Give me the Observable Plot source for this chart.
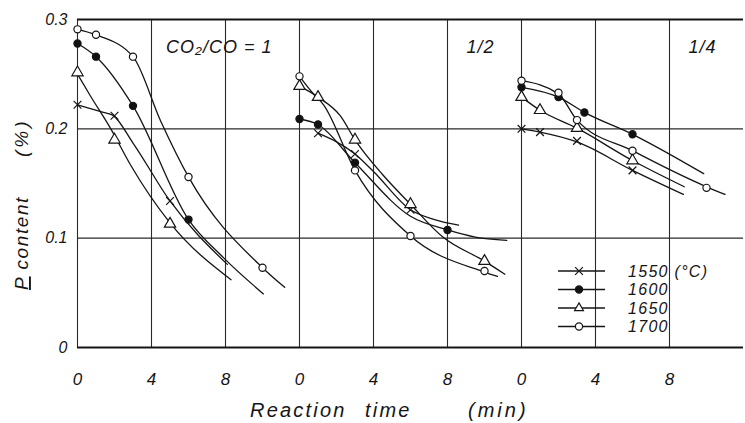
<!DOCTYPE html>
<html><head><meta charset="utf-8">
<script src="https://cdn.jsdelivr.net/npm/d3@7"></script>
<script src="https://cdn.jsdelivr.net/npm/@observablehq/plot@0.6"></script>
<style>
body{margin:0;background:#fff;}
#chart{width:745px;height:423px;}
svg{font-family:"Liberation Sans",Arial,sans-serif;}
</style></head><body><div id="chart"></div>
<script>
// Panels (CO2/CO ratio) and temperatures
const panels = ["1", "1/2", "1/4"];
const panelTitles = ["CO₂/CO = 1", "1/2", "1/4"];
const temps = ["1550", "1600", "1650", "1700"];
const tempLabels = ["1550 (°C)", "1600", "1650", "1700"];
const xTicks = [0, 4, 8];
const yTicks = [0, 0.1, 0.2, 0.3];

// measured points: [panel, reaction time (min), P content (%)]
const m1550 = [["1",0,0.222],["1",2,0.212],["1",5,0.134],
  ["1/2",1,0.196],["1/2",3,0.177],["1/2",6,0.126],
  ["1/4",0,0.200],["1/4",1,0.197],["1/4",3,0.189],["1/4",6,0.162]];
const m1600 = [["1",0,0.278],["1",1,0.266],["1",3,0.221],["1",6,0.117],
  ["1/2",0,0.209],["1/2",1,0.204],["1/2",3,0.169],["1/2",8,0.1075],
  ["1/4",0,0.238],["1/4",2,0.229],["1/4",3.4,0.215],["1/4",6,0.195]];
const m1650 = [["1",0,0.2515],["1",2,0.19],["1",5,0.113],
  ["1/2",0,0.239],["1/2",1,0.229],["1/2",3,0.19],["1/2",6,0.131],["1/2",10,0.079],
  ["1/4",0,0.229],["1/4",1,0.217],["1/4",3,0.2006],["1/4",6,0.171]];
const m1700 = [["1",0,0.291],["1",1,0.286],["1",3,0.266],["1",6,0.156],["1",10,0.073],
  ["1/2",0,0.248],["1/2",3,0.162],["1/2",6,0.102],["1/2",10,0.070],
  ["1/4",0,0.244],["1/4",2,0.233],["1/4",3,0.208],["1/4",6,0.18],["1/4",10,0.146]];

// hand-drawn fitted curves: [panel, time, P]
const c1550 = [["1",0,0.222],["1",1.4,0.215],["1",1.9,0.2125],["1",3,0.187],["1",5,0.134],["1",8.1,0.076],
  ["1/2",1,0.196],["1/2",3,0.177],["1/2",4,0.161],["1/2",6,0.126],["1/2",7.3,0.117],["1/2",8.6,0.112],
  ["1/4",0,0.2],["1/4",1,0.197],["1/4",3,0.188],["1/4",6,0.162],["1/4",8.75,0.14]];
const c1600 = [["1",0,0.278],["1",1,0.266],["1",3,0.221],["1",6,0.117],["1",7.9,0.082],["1",10.05,0.049],
  ["1/2",0,0.209],["1/2",1,0.204],["1/2",3,0.169],["1/2",6,0.12],["1/2",8,0.1075],["1/2",9.5,0.101],["1/2",11.2,0.098],
  ["1/4",0,0.238],["1/4",2,0.229],["1/4",3.4,0.215],["1/4",6,0.195],["1/4",9.85,0.159]];
const c1650 = [["1",0,0.25],["1",0.7,0.23],["1",1.8,0.2],["1",2.9,0.166],["1",5,0.114],["1",8.3,0.062],
  ["1/2",0,0.239],["1/2",1,0.229],["1/2",2.2,0.212],["1/2",3,0.19],["1/2",4.5,0.158],["1/2",6,0.131],["1/2",7.75,0.101],["1/2",10,0.079],["1/2",11.1,0.067],
  ["1/4",0,0.229],["1/4",1,0.217],["1/4",3,0.2006],["1/4",6,0.171],["1/4",8.8,0.147]];
const c1700 = [["1",0,0.291],["1",1,0.286],["1",3,0.266],["1",4.5,0.207],["1",6,0.156],["1",10,0.073],["1",11.2,0.055],
  ["1/2",0,0.248],["1/2",0.7,0.233],["1/2",1.3,0.222],["1/2",3,0.162],["1/2",6,0.102],["1/2",10,0.069],["1/2",10.7,0.065],
  ["1/4",0,0.244],["1/4",2,0.232],["1/4",3,0.208],["1/4",6,0.18],["1/4",10,0.147],["1/4",11,0.14]];

const markerSets = [m1550, m1600, m1650, m1700];
const curveSets = [c1550, c1600, c1650, c1700];
const symbols = ["times", "circle", "triangle", "circle"];
const fills = ["none", "#111", "white", "white"];
const radii = [3.6, 3.6, 4.2, 3.6];
const ink = "#151515";

const rows = (arr) => arr.map(([panel, t, v]) => ({panel, t, v}));
const titleRows = panels.map((p, i) => ({panel: p, title: panelTitles[i]}));

const marks = [
  Plot.gridX(xTicks, {stroke: "#2a2a2a", strokeOpacity: 1, strokeWidth: 1.1}),
  Plot.gridY([0.1, 0.2], {stroke: "#2a2a2a", strokeOpacity: 1, strokeWidth: 1.1}),
  Plot.ruleY([0, 0.3], {stroke: ink, strokeWidth: 2}),
  Plot.axisX(xTicks, {tickSize: 0, tickPadding: 25, fontSize: 17, fontStyle: "italic", label: null}),
  Plot.axisY(yTicks, {tickSize: 0, tickPadding: 10, fontSize: 16, fontStyle: "italic", label: null,
    tickFormat: d => d === 0 ? "0" : d.toFixed(1)}),
  Plot.text(titleRows, {fx: "panel", text: "title", frameAnchor: "top-right", textAnchor: "end",
    lineAnchor: "middle", dx: -27, dy: 28, fontSize: 18, fontStyle: "italic", fill: ink})
];
curveSets.forEach((c) => {
  marks.push(Plot.line(rows(c), {fx: "panel", x: "t", y: "v", curve: "monotone-x", stroke: ink, strokeWidth: 1.3}));
});
markerSets.forEach((m, i) => {
  marks.push(Plot.dot(rows(m), {fx: "panel", x: "t", y: "v", symbol: symbols[i], r: radii[i],
    fill: fills[i], stroke: ink, strokeWidth: 1.2}));
});

const plot = Plot.plot({
  width: 745, height: 423,
  marginLeft: 77, marginRight: 2, marginTop: 19, marginBottom: 76,
  fx: {domain: panels, padding: 0, axis: null, label: null},
  x: {domain: [0, 12]},
  y: {domain: [0, 0.3]},
  style: {background: "white", color: ink, fontFamily: "'Liberation Sans', Arial, sans-serif"},
  marks
});
document.getElementById("chart").appendChild(plot);

// axis titles and in-plot legend
const svg = d3.select(plot);
svg.selectAll("g[aria-label='text'] text").attr("letter-spacing", 1);
const yl = svg.append("text").attr("transform", "translate(28,290) rotate(-90)").attr("text-anchor", "start")
  .attr("font-size", 19).attr("font-style", "italic").attr("letter-spacing", 1.6).attr("fill", ink);
yl.append("tspan").attr("text-decoration", "underline").text("P");
yl.append("tspan").text(" content");
svg.append("text").attr("transform", "translate(28,157) rotate(-90)").attr("text-anchor", "start")
  .attr("font-size", 19).attr("font-style", "italic").attr("letter-spacing", 3).attr("fill", ink).text("(%)");

const xl = svg.append("text").attr("y", 417).attr("text-anchor", "start").attr("font-size", 20)
  .attr("font-style", "italic").attr("letter-spacing", 2.2).attr("fill", ink);
xl.append("tspan").attr("x", 250).text("Reaction");
xl.append("tspan").attr("x", 365).text("time");
xl.append("tspan").attr("x", 468).attr("letter-spacing", 3).text("(min)");

const legendY = [271, 289.5, 308, 326.5];
const symType = {times: d3.symbolTimes, circle: d3.symbolCircle, triangle: d3.symbolTriangle2};
const lg = svg.append("g");
temps.forEach((t, i) => {
  const y = legendY[i];
  lg.append("line").attr("x1", 558).attr("x2", 605).attr("y1", y).attr("y2", y)
    .attr("stroke", ink).attr("stroke-width", 1.3);
  lg.append("path").attr("transform", `translate(579,${y})`)
    .attr("d", d3.symbol(symType[symbols[i]], Math.PI * radii[i] * radii[i])())
    .attr("fill", i === 0 ? "white" : fills[i]).attr("stroke", ink).attr("stroke-width", 1.2);
  lg.append("text").attr("x", 628).attr("y", y).attr("dy", "0.36em").attr("text-anchor", "start")
    .attr("font-size", 16).attr("font-style", "italic").attr("letter-spacing", 1.3).attr("fill", ink)
    .text(tempLabels[i]);
});
</script></body></html>
